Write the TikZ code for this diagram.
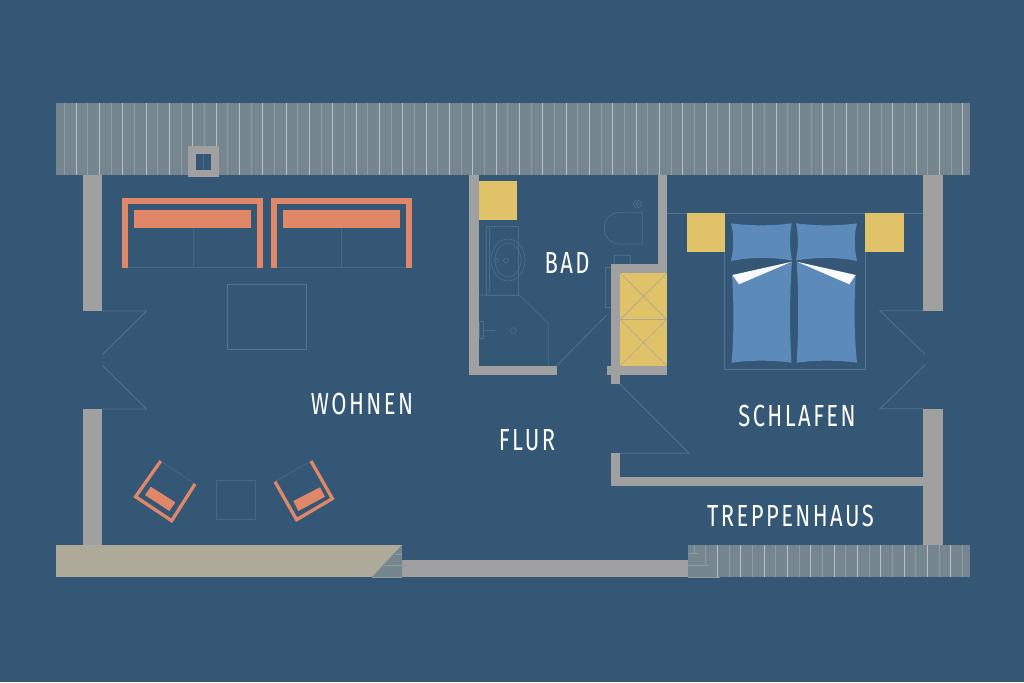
\documentclass[tikz,border=0pt]{standalone}
\usepackage{fontspec}
\setmainfont{Fira Sans}[FakeStretch=0.72,LetterSpace=8]
\definecolor{bgc}{HTML}{345776}
\definecolor{roofc}{HTML}{76868E}
\definecolor{wallc}{HTML}{A0A0A0}
\definecolor{tanc}{HTML}{AEAA99}
\definecolor{orangec}{HTML}{E0876A}
\definecolor{yellowc}{HTML}{E0C268}
\definecolor{bluec}{HTML}{5B8ABB}
\definecolor{thinc}{HTML}{557290}
\definecolor{faintc}{HTML}{466985}
\definecolor{sanc}{HTML}{4C6D89}
\tikzset{
  wall/.style={fill=wallc,draw=none},
  thin line/.style={draw=thinc,line width=0.8pt},
  faint line/.style={draw=faintc,line width=0.7pt},
  san line/.style={draw=sanc,line width=0.7pt},
  armframe/.style={draw=orangec,line width=3.3pt,line cap=butt},
  cushion/.style={fill=orangec,draw=none},
  box/.style={fill=yellowc,draw=none},
  linen/.style={fill=bluec,draw=none},
  sheet/.style={fill=white!96!bluec,draw=none},
  room/.style={text=white,font=\fontsize{30.5}{30.5}\selectfont,inner sep=0pt},
  rib/.style={draw=white!18!roofc,line width=0.8pt},
  ribb/.style={draw=white!48!roofc,line width=0.9pt},
  closetline/.style={draw=wallc!80!yellowc,line width=0.6pt}
}
\begin{document}
\begin{tikzpicture}[x=1pt,y=-1pt]
\useasboundingbox (0,0) rectangle (1024,682);
\fill[bgc] (0,0) rectangle (1024,682);

% roof band with ribs
\fill[roofc] (56,103) rectangle (970,175);
\foreach \i in {0,...,77}{
  \pgfmathsetmacro{\xx}{64.3+11.67*\i}
  \pgfmathparse{int(mod(\i,2))}
  \ifnum\pgfmathresult=0
    \draw[rib] (\xx,103) -- (\xx,175);
  \else
    \draw[ribb] (\xx,103) -- (\xx,175);
  \fi
}

% walls
\fill[wall] (83,175) rectangle (102,311);
\fill[wall] (83,409) rectangle (102,545);
\fill[wall] (923.3,175) rectangle (942.7,311);
\fill[wall] (923.3,409) rectangle (942.7,545);
\fill[wall] (469.3,175) rectangle (478.7,375);
\fill[wall] (469.3,365.7) rectangle (556.7,375);
\fill[wall] (657.7,175) rectangle (666.7,273);
\fill[wall] (611,263.7) rectangle (666.7,273);
\fill[wall] (611,263.7) rectangle (620.3,384.3);
\fill[wall] (606.7,365.7) rectangle (666.7,375);
\fill[wall] (610.7,453.3) rectangle (620,485.7);
\fill[wall] (610.7,476.7) rectangle (923.3,485.7);
\fill[wall] (402,560) rectangle (690,577.3);

% chimney
\fill[wall] (188,146) rectangle (219,177.3);
\fill[bgc] (195.6,154.3) rectangle (211.4,170);
\draw[faint line] (203.5,154.3) -- (203.5,170);

% terrace and lower left stair
\fill[tanc] (56,545) rectangle (402,577.3);
\fill[roofc] (402,545) -- (371.7,577.3) -- (402,577.3) -- cycle;
\draw[rib] (395,554) -- (402,554);
\draw[rib] (384,565) -- (410,565);
\draw[rib] (371.7,577.3) -- (402,577.3);

% lower right stair
\fill[roofc] (688.3,545) rectangle (970,577.3);
\foreach \i in {0,...,21}{
  \pgfmathsetmacro{\xx}{717.3+11.67*\i}
  \pgfmathparse{int(mod(\i,2))}
  \ifnum\pgfmathresult=0
    \draw[ribb] (\xx,545) -- (\xx,577.3);
  \else
    \draw[rib] (\xx,545) -- (\xx,577.3);
  \fi
}
\draw[rib] (694,545) -- (694,554);
\draw[rib] (705.7,545) -- (705.7,565);
\draw[rib] (688.3,553.3) -- (698,553.3);
\draw[rib] (688.3,565.7) -- (709,565.7);
\draw[rib] (688.3,577) -- (720,577);

% window swings
\draw[thin line] (102,311) -- (146.5,311) -- (102,355);
\draw[thin line] (102,365) -- (146.5,409) -- (102,409);
\draw[thin line] (923.3,310.7) -- (880,310.7) -- (925,354.3);
\draw[thin line] (925,365) -- (880,408.7) -- (923.3,408.7);

% sofas
\foreach \o/\c/\m in {122.3/134.3/193,271.3/283/341}{
  \draw[faint line] (\m,227.7) -- (\m,268);
  \draw[faint line] ({\o+6},267.8) -- ({\o+134.4},267.8);
  \fill[orangec] (\o,198) rectangle ({\o+140.4},204.3);
  \fill[orangec] (\o,198) rectangle ({\o+6},268.3);
  \fill[orangec] ({\o+134.4},198) rectangle ({\o+140.4},268.3);
  \fill[cushion] (\c,209.7) rectangle ({\c+116.8},227.7);
}

% tables
\draw[thin line] (227,284.3) rectangle (306.7,349);
\draw[faint line] (216,480) rectangle (255.7,519.3);

% armchairs
\draw[faint line] (160.7,461) -- (195,484);
\draw[armframe,miter limit=10] (160.7,461) -- (135.6,496.7) -- (171.7,520.7) -- (195,484);
\fill[cushion] (150.7,486.7) -- (175.3,502.3) -- (169.3,511) -- (145,495) -- cycle;
\draw[faint line] (311,461) -- (275,481.7);
\draw[armframe,miter limit=10] (311,461) -- (332.4,498.6) -- (296.6,519.7) -- (275,481.7);
\fill[cushion] (320,487.3) -- (325,496.7) -- (298.3,511) -- (293.3,501) -- cycle;

% bath fittings
\fill[box] (478.7,181) rectangle (517,220);
\draw[san line] (486.7,226) rectangle (518,295);
\draw[san line] (489,228) -- (489,293);
\draw[san line] (479,295) -- (519.3,295) -- (548.3,323.3) -- (548.3,365.7);
\draw[san line] (508,260) ellipse (17 and 21);
\draw[san line] (508,260) ellipse (13 and 17);
\draw[san line] (506,260.5) circle (2.5);
\draw[san line] (496.5,260.5) circle (2);
\draw[san line] (513.3,330.7) circle (3);
\draw[san line] (479,321) rectangle (483,338);
\draw[san line] (483,330) -- (495,330);
\draw[san line] (642.3,212.3) -- (620,212.3) .. controls (599,212.3) and (599,244) .. (620,244) -- (642.3,244) -- cycle;
\draw[san line] (637.3,204) circle (4);
\draw[san line] (637.3,204) circle (1.8);
\draw[san line] (614,263.7) -- (614,255.7) -- (630.7,255.7) -- (630.7,263.7);
\draw[san line] (611,267) -- (605,267) -- (605,307) -- (611,307);

% closet
\fill[box] (620.3,273) rectangle (666.7,365.7);
\draw[closetline] (620.3,319.3) -- (666.7,319.3);
\draw[closetline] (620.3,273) -- (666.7,319.3) (666.7,273) -- (620.3,319.3);
\draw[closetline] (620.3,319.3) -- (666.7,365.7) (666.7,319.3) -- (620.3,365.7);

% door swings
\draw[thin line] (556.7,365.7) -- (606.7,315);
\draw[thin line] (620,384.3) -- (689,453.3) -- (620,453.3);

% bed
\draw[thin line] (666.7,213.3) -- (923.3,213.3);
\draw[thin line] (724.3,213.3) rectangle (865,369);
\fill[box] (686.7,213.3) rectangle (724.7,252.3);
\fill[box] (865,213.3) rectangle (903.7,252.3);
% pillows
\fill[linen] (731,223.3) .. controls (750,226) and (772,226) .. (791.7,223.3)
  .. controls (789.5,235) and (789.5,248) .. (792,260.5)
  .. controls (772,257) and (750,257) .. (731,261)
  .. controls (734,248) and (734,235) .. (731,223.3) -- cycle;
\fill[linen] (796,223.3) .. controls (816,226) and (838,226) .. (857,223.3)
  .. controls (854,235) and (854,248) .. (857,261)
  .. controls (838,257) and (816,257) .. (796,260.5)
  .. controls (798.5,248) and (798.5,235) .. (796,223.3) -- cycle;
% duvets
\fill[linen] (792,262) -- (739,284.3) -- (732,275)
  .. controls (734,305) and (734,335) .. (731.5,362.7)
  .. controls (750,360) and (772,360) .. (791.5,362.7)
  .. controls (789.5,330) and (789.5,295) .. (792,262) -- cycle;
\fill[linen] (796.7,262) -- (849.3,284.3) -- (855.7,275)
  .. controls (854,305) and (854,335) .. (857,362.7)
  .. controls (838,360) and (816,360) .. (796.7,362.7)
  .. controls (798.7,330) and (798.7,295) .. (796.7,262) -- cycle;
\fill[sheet] (792,261.7) -- (732.3,275) -- (739,284.3) -- cycle;
\fill[sheet] (796.7,261.7) -- (855.7,275) -- (849.3,284.3) -- cycle;

% labels
\node[room] (wohnen) at (362,404) {WOHNEN};
\node[room] (bad) at (567,263) {BAD};
\node[room] (flur) at (527,440) {FLUR};
\node[room] (schlafen) at (797,416) {SCHLAFEN};
\node[room] (treppenhaus) at (790.5,516) {TREPPENHAUS};
\end{tikzpicture}
\end{document}
